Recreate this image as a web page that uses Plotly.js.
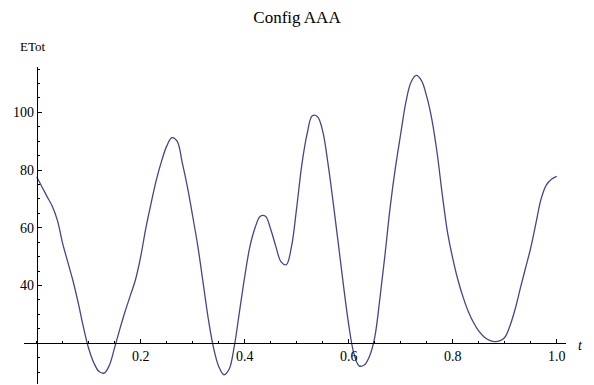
<!DOCTYPE html>
<html>
<head>
<meta charset="utf-8">
<script src="https://cdn.plot.ly/plotly-3.0.1.min.js"></script>
<style>html,body{margin:0;padding:0;background:#fff;}#chart{width:594px;height:385px;}</style>
</head>
<body>
<div id="chart"></div>
<script>
// Data (t, ETot)
const tValues = [0.00, 0.01, 0.02, 0.03, 0.04, 0.05, 0.06, 0.07, 0.08, 0.09,
                 0.10, 0.11, 0.12, 0.13, 0.14, 0.15, 0.16, 0.17, 0.18, 0.19,
                 0.20, 0.21, 0.22, 0.23, 0.24, 0.25, 0.26, 0.27, 0.28, 0.29,
                 0.30, 0.31, 0.32, 0.33, 0.34, 0.35, 0.36, 0.37, 0.38, 0.39,
                 0.40, 0.41, 0.42, 0.43, 0.44, 0.45, 0.46, 0.47, 0.48, 0.49,
                 0.50, 0.51, 0.52, 0.53, 0.54, 0.55, 0.56, 0.57, 0.58, 0.59,
                 0.60, 0.61, 0.62, 0.63, 0.64, 0.65, 0.66, 0.67, 0.68, 0.69,
                 0.70, 0.71, 0.72, 0.73, 0.74, 0.75, 0.76, 0.77, 0.78, 0.79,
                 0.80, 0.81, 0.82, 0.83, 0.84, 0.85, 0.86, 0.87, 0.88, 0.89,
                 0.90, 0.91, 0.92, 0.93, 0.94, 0.95, 0.96, 0.97, 0.98, 0.99, 1.00];
const eTot = [77.7, 74.2, 70.8, 67.5, 62.5, 54.5, 48.0, 41.5, 33.9, 25.5,
              18.2, 13.2, 10.2, 9.7, 12.5, 18.6, 25.0, 31.0, 36.5, 42.0,
              50.0, 60.0, 68.5, 76.5, 83.0, 88.3, 91.2, 90.0, 82.5, 74.0,
              64.0, 53.5, 41.0, 28.5, 18.5, 12.0, 9.1, 11.0, 19.0, 31.0,
              43.0, 53.5, 60.0, 64.0, 64.0, 59.5, 53.5, 48.2, 47.2, 53.5,
              67.0, 82.0, 92.5, 98.8, 98.5, 93.5, 82.5, 69.0, 54.6, 40.0,
              26.5, 16.5, 12.2, 12.5, 15.5, 22.0, 35.5, 51.0, 67.5, 81.0,
              92.5, 103.5, 110.5, 112.8, 111.0, 105.5, 97.5, 86.0, 71.5, 58.5,
              49.5, 42.0, 36.0, 31.0, 27.2, 24.3, 22.3, 21.1, 20.6, 20.8,
              22.0, 26.0, 31.8, 39.0, 46.0, 53.0, 61.5, 70.0, 74.8, 76.8, 77.8];
const xTickVals = [0.2, 0.4, 0.6, 0.8, 1.0];
const xTickText = ["0.2", "0.4", "0.6", "0.8", "1.0"];
const yTickVals = [40, 60, 80, 100];
const yTickText = ["40", "60", "80", "100"];
const titleText = "Config AAA";
const yLabel = "ETot";
const xLabel = "t";

const xRange = [-0.0244, 1.0179];
const yRange = [5.9, 115.7];
const xCross = 0;   // y axis drawn at t = 0
const yCross = 20;  // x axis drawn at ETot = 20

const serif = "'Liberation Serif', serif";

const trace = {
  x: tValues, y: eTot, type: "scatter", mode: "lines",
  line: {color: "#45458c", width: 1.3, shape: "spline", smoothing: 1},
  hoverinfo: "skip"
};

const layout = {
  width: 594, height: 385,
  margin: {l: 24, r: 28, t: 67, b: 1, pad: 0},
  paper_bgcolor: "#fff", plot_bgcolor: "#fff",
  showlegend: false,
  title: {text: titleText, font: {family: serif, size: 17, color: "#000"},
          x: 0.5, xref: "container", xanchor: "center", y: 1 - 17/385, yref: "container", yanchor: "middle"},
  xaxis: {
    range: xRange, anchor: "free",
    position: (yCross - yRange[0]) / (yRange[1] - yRange[0]),
    showline: true, linecolor: "#000", linewidth: 1,
    showgrid: false, zeroline: false,
    ticks: "inside", ticklen: 4, tickwidth: 1, tickcolor: "#000",
    tickvals: xTickVals, ticktext: xTickText,
    tickfont: {family: serif, size: 14, color: "#000"},
    minor: {dtick: 0.05, tick0: 0, ticks: "inside", ticklen: 2.5, tickcolor: "#000", showgrid: false}
  },
  yaxis: {
    range: yRange, anchor: "free",
    position: (xCross - xRange[0]) / (xRange[1] - xRange[0]),
    showline: true, linecolor: "#000", linewidth: 1,
    showgrid: false, zeroline: false,
    ticks: "inside", ticklen: 4, tickwidth: 1, tickcolor: "#000",
    tickvals: yTickVals, ticktext: yTickText,
    tickfont: {family: serif, size: 14, color: "#000"},
    minor: {dtick: 5, tick0: 0, ticks: "inside", ticklen: 2.5, tickcolor: "#000", showgrid: false}
  },
  annotations: [
    {text: yLabel, xref: "paper", yref: "paper", x: (32 - 24) / 542, y: (384 - 46.7) / 317,
     showarrow: false, xanchor: "center", yanchor: "middle", font: {family: serif, size: 13, color: "#000"}},
    {text: "<i>" + xLabel + "</i>", xref: "paper", yref: "paper", x: (580 - 24) / 542, y: (384 - 345) / 317,
     showarrow: false, xanchor: "center", yanchor: "middle", font: {family: serif, size: 14, color: "#000"}}
  ]
};

Plotly.newPlot("chart", [trace], layout, {displayModeBar: false, staticPlot: true});
</script>
</body>
</html>
